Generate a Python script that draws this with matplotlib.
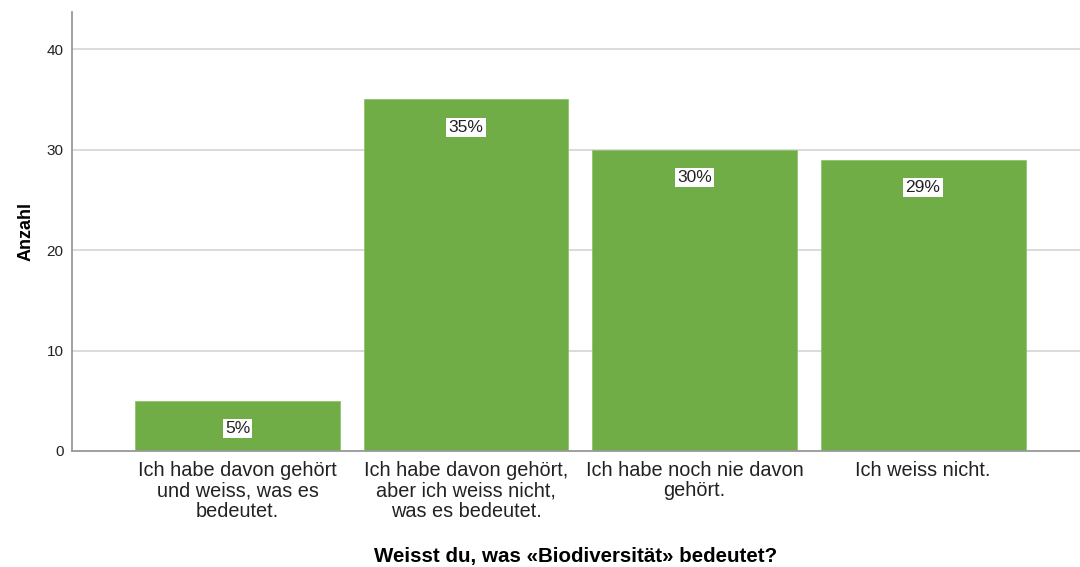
import matplotlib.pyplot as plt

plt.rcParams['font.family'] = ['Liberation Sans', 'DejaVu Sans']

kategorien = [
    'Ich habe davon gehört\nund weiss, was es\nbedeutet.',
    'Ich habe davon gehört,\naber ich weiss nicht,\nwas es bedeutet.',
    'Ich habe noch nie davon\ngehört.',
    'Ich weiss nicht.',
]
anzahl = [5, 35, 30, 29]
prozent = ['5%', '35%', '30%', '29%']

fig = plt.figure(figsize=(10.8, 5.67), dpi=100)
ax = fig.add_axes([0.0667, 0.2046, 0.9333, 0.7742])

x = list(range(len(anzahl)))
bars = ax.bar(x, anzahl, width=0.897, color='#70AD47', edgecolor='#8fc46c',
              linewidth=0.6, zorder=2)

for b, txt in zip(bars, prozent):
    ax.annotate(txt, (b.get_x() + b.get_width() / 2, b.get_height()),
                xytext=(0, -20), textcoords='offset points',
                ha='center', va='center', fontsize=12.5, color='#222222',
                bbox=dict(boxstyle='square,pad=0.12', fc='white', ec='none'),
                zorder=3)

ax.set_xlim(-0.724, 3.687)
ax.set_ylim(0, 43.7)
ax.set_yticks([0, 10, 20, 30, 40])
ax.set_xticks(x)
ax.set_xticklabels(kategorien, fontsize=14.3, color='#222222', linespacing=1.1)
ax.tick_params(axis='x', length=0, pad=7)
ax.tick_params(axis='y', length=0, pad=6, labelsize=11, labelcolor='#222222')

ax.grid(axis='y', color='#d4d4d4', linewidth=1.2, zorder=0)
ax.set_axisbelow(True)
for s in ['top', 'right']:
    ax.spines[s].set_visible(False)
ax.spines['left'].set_color('#999999')
ax.spines['bottom'].set_color('#999999')
ax.spines['left'].set_linewidth(1.3)
ax.spines['bottom'].set_linewidth(1.3)

ax.set_ylabel('Anzahl', fontsize=13, fontweight='bold', labelpad=9)
ax.set_xlabel('Weisst du, was «Biodiversität» bedeutet?', fontsize=14.8,
              fontweight='bold', labelpad=19)

fig.savefig('out.png', dpi=100)
